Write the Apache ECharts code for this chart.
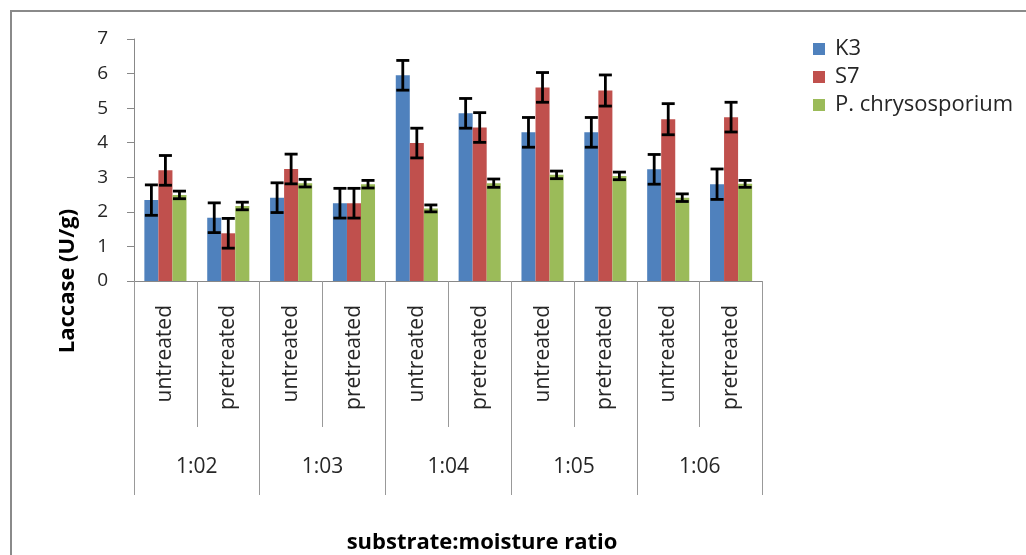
<!DOCTYPE html>
<html>
<head>
<meta charset="utf-8">
<script src="https://cdn.jsdelivr.net/npm/echarts@6/dist/echarts.min.js"></script>
<style>
html,body{margin:0;padding:0;background:#fff;}
#chart{width:1026px;height:555px;}
</style>
</head>
<body>
<div id="chart"></div>
<script>
const treatments = ['untreated','pretreated','untreated','pretreated','untreated','pretreated','untreated','pretreated','untreated','pretreated'];
const ratios = ['1:02','1:03','1:04','1:05','1:06'];
const seriesNames = ['K3','S7','P. chrysosporium'];
const K3 = [2.34, 1.83, 2.41, 2.25, 5.95, 4.85, 4.30, 4.30, 3.23, 2.80];
const S7 = [3.20, 1.38, 3.24, 2.25, 3.99, 4.44, 5.60, 5.51, 4.68, 4.74];
const PC = [2.49, 2.17, 2.83, 2.80, 2.10, 2.83, 3.07, 3.04, 2.41, 2.81];
const errK3 = [0.44, 0.43, 0.43, 0.43, 0.43, 0.43, 0.43, 0.43, 0.43, 0.44];
const errS7 = [0.43, 0.43, 0.43, 0.43, 0.43, 0.43, 0.43, 0.45, 0.45, 0.43];
const errPC = [0.11, 0.11, 0.11, 0.11, 0.10, 0.12, 0.11, 0.11, 0.11, 0.10];
const yTicks = [0, 7, 1];

const colors = ['#4F81BD', '#C0504D', '#9BBB59'];
const FONT = '"Open Sans", sans-serif';
const GAP = 0.33;

const chart = echarts.init(document.getElementById('chart'));

function errorSeries(idx, vals, errs) {
  return {
    type: 'custom',
    xAxisIndex: 0, yAxisIndex: 0, z: 10, silent: true,
    data: vals.map((v, i) => [i, v - errs[i], v + errs[i]]),
    encode: { x: 0, y: [1, 2] },
    renderItem: function (params, api) {
      const i = api.value(0);
      const lo = api.coord([i, api.value(1)]);
      const hi = api.coord([i, api.value(2)]);
      const band = api.size([1, 0])[0];
      const bw = band * (1 - GAP) / 3;
      const x = lo[0] + (idx - 1) * bw;
      const cap = 6.5;
      const style = { stroke: '#000', lineWidth: 2.8 };
      return {
        type: 'group',
        children: [
          { type: 'line', shape: { x1: x, y1: hi[1], x2: x, y2: lo[1] }, style: style },
          { type: 'line', shape: { x1: x - cap, y1: hi[1], x2: x + cap, y2: hi[1] }, style: style },
          { type: 'line', shape: { x1: x - cap, y1: lo[1], x2: x + cap, y2: lo[1] }, style: style }
        ]
      };
    }
  };
}

const values = [K3, S7, PC];
const errs = [errK3, errS7, errPC];

const series = [];
values.forEach((v, k) => {
  series.push({
    name: seriesNames[k], type: 'bar', xAxisIndex: 0, yAxisIndex: 0,
    data: v, barGap: '0%', barCategoryGap: (GAP * 100) + '%',
    itemStyle: { color: colors[k] }
  });
});
values.forEach((v, k) => series.push(errorSeries(k, v, errs[k])));

chart.setOption({
  animation: false,
  backgroundColor: '#fff',
  textStyle: { fontFamily: FONT },
  grid: { left: 134, right: 263.5, top: 39, bottom: 274, containLabel: false },
  legend: {
    orient: 'vertical', left: 808, top: 33,
    itemWidth: 12, itemHeight: 12, itemGap: 6, icon: 'rect',
    data: seriesNames,
    textStyle: { fontFamily: FONT, fontSize: 22, color: '#262626', padding: [0, 0, 0, 5] }
  },
  xAxis: [
    {
      type: 'category', data: treatments, position: 'bottom',
      axisLine: { show: true, lineStyle: { color: '#888', width: 1 } },
      axisTick: { show: true, interval: 0, length: 146, lineStyle: { color: '#999' } },
      axisLabel: { interval: 0, rotate: 90, margin: 24, fontSize: 21, color: '#262626', fontFamily: FONT }
    },
    {
      type: 'category', data: ratios, position: 'bottom', offset: 0,
      axisLine: { show: false },
      axisTick: { show: true, interval: 0, length: 214, lineStyle: { color: '#999' } },
      axisLabel: { interval: 0, margin: 176, fontSize: 21, color: '#262626', fontFamily: FONT }
    }
  ],
  yAxis: {
    type: 'value', min: yTicks[0], max: yTicks[1], interval: yTicks[2],
    axisLine: { show: true, lineStyle: { color: '#888' } },
    axisTick: { show: true, inside: false, length: 7, lineStyle: { color: '#888' } },
    splitLine: { show: false },
    axisLabel: { margin: 26, fontSize: 19, color: '#262626', fontFamily: FONT }
  },
  graphic: [
    { type: 'polyline', shape: { points: [[11, 600], [11, 11], [1100, 11]] }, style: { stroke: '#8a8a8a', lineWidth: 2, fill: null }, silent: true },
    { type: 'text', x: 68, y: 281, rotation: Math.PI / 2,
      style: { text: 'Laccase (U/g)', fontFamily: FONT, fontSize: 22, fontWeight: 'bold', fill: '#000', textAlign: 'center', textVerticalAlign: 'middle' } },
    { type: 'text', x: 482, y: 543,
      style: { text: 'substrate:moisture ratio', fontFamily: FONT, fontSize: 22, fontWeight: 'bold', fill: '#000', textAlign: 'center', textVerticalAlign: 'middle' } }
  ],
  series: series
});
</script>
</body>
</html>
